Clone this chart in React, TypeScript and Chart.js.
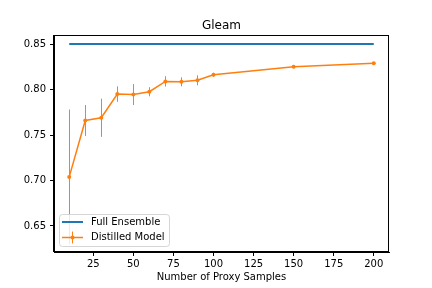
import React, { useEffect, useRef } from "react";
import { Chart, registerables } from "chart.js";

Chart.register(...registerables);

const xValues = [10, 20, 30, 40, 50, 60, 70, 80, 90, 100, 150, 200];
const distilledValues = [0.704, 0.766, 0.769, 0.795, 0.7945, 0.7976, 0.809, 0.8085, 0.8102, 0.8163, 0.825, 0.829];
const distilledStd = [0.074, 0.017, 0.021, 0.0085, 0.0115, 0.005, 0.0057, 0.005, 0.0055, 0.0022, 0.0015, 0.001];
const ensembleX = [10, 200];
const ensembleValues = [0.85, 0.85];
const xTicks = [25, 50, 75, 100, 125, 150, 175, 200];
const yTicks = [0.65, 0.7, 0.75, 0.8, 0.85];

const FONT = "'DejaVu Sans', sans-serif";
const BLUE = "#1f77b4";
const ORANGE = "#ff7f0e";

const framePlugin = {
  id: "framePlugin",
  beforeDatasetsDraw(chart: any) {
    const ctx = chart.ctx;
    const xs = chart.scales.x;
    const ys = chart.scales.y;
    const area = chart.chartArea;
    ctx.save();
    ctx.beginPath();
    ctx.rect(area.left, area.top, area.right - area.left, area.bottom - area.top);
    ctx.clip();
    ctx.strokeStyle = ORANGE;
    ctx.lineWidth = 1;
    xValues.forEach((xv, i) => {
      const px = Math.round(xs.getPixelForValue(xv)) + 0.5;
      const y1 = ys.getPixelForValue(distilledValues[i] - distilledStd[i]);
      const y2 = ys.getPixelForValue(distilledValues[i] + distilledStd[i]);
      ctx.beginPath();
      ctx.moveTo(px, y1);
      ctx.lineTo(px, y2);
      ctx.stroke();
    });
    ctx.restore();
  },
  afterDatasetsDraw(chart: any) {
    const ctx = chart.ctx;
    const area = chart.chartArea;
    ctx.save();
    // frame
    ctx.strokeStyle = "#000";
    ctx.lineWidth = 1;
    ctx.strokeRect(Math.round(area.left) - 0.5, Math.round(area.top) + 0.5, Math.round(area.right - area.left), Math.round(area.bottom - area.top) - 1);

    // legend
    const lx = 59.5, ly = 214.5, lw = 110, lh = 32, r = 3;
    ctx.beginPath();
    ctx.moveTo(lx + r, ly);
    ctx.lineTo(lx + lw - r, ly);
    ctx.quadraticCurveTo(lx + lw, ly, lx + lw, ly + r);
    ctx.lineTo(lx + lw, ly + lh - r);
    ctx.quadraticCurveTo(lx + lw, ly + lh, lx + lw - r, ly + lh);
    ctx.lineTo(lx + r, ly + lh);
    ctx.quadraticCurveTo(lx, ly + lh, lx, ly + lh - r);
    ctx.lineTo(lx, ly + r);
    ctx.quadraticCurveTo(lx, ly, lx + r, ly);
    ctx.closePath();
    ctx.fillStyle = "rgba(255,255,255,0.8)";
    ctx.fill();
    ctx.strokeStyle = "rgba(204,204,204,0.8)";
    ctx.stroke();

    const hx1 = 62, hx2 = 83;
    const row1 = 222, row2 = 237.5;
    ctx.strokeStyle = BLUE;
    ctx.lineWidth = 2;
    ctx.beginPath();
    ctx.moveTo(hx1, row1);
    ctx.lineTo(hx2, row1);
    ctx.stroke();

    ctx.strokeStyle = ORANGE;
    ctx.lineWidth = 1;
    ctx.beginPath();
    ctx.moveTo(72.5, row2 - 6);
    ctx.lineTo(72.5, row2 + 6);
    ctx.stroke();
    ctx.lineWidth = 1.5;
    ctx.beginPath();
    ctx.moveTo(hx1, row2);
    ctx.lineTo(hx2, row2);
    ctx.stroke();
    ctx.fillStyle = ORANGE;
    ctx.beginPath();
    ctx.arc(72.5, row2, 2, 0, Math.PI * 2);
    ctx.fill();

    ctx.fillStyle = "#000";
    ctx.font = `10px ${FONT}`;
    ctx.textAlign = "left";
    ctx.textBaseline = "middle";
    ctx.fillText("Full Ensemble", 91, row1);
    ctx.fillText("Distilled Model", 91, row2);

    // title
    ctx.font = `12px ${FONT}`;
    ctx.textAlign = "center";
    ctx.textBaseline = "alphabetic";
    ctx.fillText("Gleam", (area.left + area.right) / 2, 29);
    ctx.restore();
  },
};

export default function App() {
  const ref = useRef<HTMLCanvasElement | null>(null);
  useEffect(() => {
    document.body.style.margin = "0";
    if (!ref.current) return;
    const chart = new Chart(ref.current, {
      type: "line",
      data: {
        datasets: [
          {
            label: "Full Ensemble",
            data: ensembleX.map((x, i) => ({ x, y: ensembleValues[i] })),
            borderColor: BLUE,
            backgroundColor: BLUE,
            borderWidth: 2,
            pointRadius: 0,
            tension: 0,
          },
          {
            label: "Distilled Model",
            data: xValues.map((x, i) => ({ x, y: distilledValues[i] })),
            borderColor: ORANGE,
            backgroundColor: ORANGE,
            borderWidth: 1.5,
            pointRadius: 2,
            pointBorderWidth: 0,
            tension: 0,
          },
        ],
      },
      options: {
        animation: false,
        responsive: false,
        devicePixelRatio: 1,
        layout: { padding: { top: 35, right: 43, left: 0, bottom: 0 } },
        plugins: {
          legend: { display: false },
          title: { display: false },
          tooltip: { enabled: false },
        },
        scales: {
          x: {
            type: "linear",
            min: 0.5,
            max: 209.5,
            afterBuildTicks: (s: any) => {
              s.ticks = xTicks.map((v) => ({ value: v }));
            },
            afterFit: (s: any) => {
              s.height = 36;
            },
            grid: { display: true, drawOnChartArea: false, drawTicks: true, tickLength: 4, color: "#000" },
            border: { display: true, color: "#000", width: 1 },
            ticks: {
              color: "#000",
              font: { family: FONT, size: 10 },
              padding: 2,
              maxRotation: 0,
              autoSkip: false,
              callback: (v: any) => String(v),
            },
            title: {
              display: true,
              text: "Number of Proxy Samples",
              color: "#000",
              font: { family: FONT, size: 10 },
              padding: { top: 0, bottom: 5 },
            },
          },
          y: {
            type: "linear",
            min: 0.6214,
            max: 0.86,
            afterBuildTicks: (s: any) => {
              s.ticks = yTicks.map((v) => ({ value: v }));
            },
            afterFit: (s: any) => {
              s.width = 54;
            },
            grid: { display: true, drawOnChartArea: false, drawTicks: true, tickLength: 4, color: "#000" },
            border: { display: true, color: "#000", width: 1 },
            ticks: {
              color: "#000",
              font: { family: FONT, size: 10 },
              padding: 4,
              autoSkip: false,
              callback: (v: any) => Number(v).toFixed(2),
            },
          },
        },
      },
      plugins: [framePlugin],
    } as any);
    return () => chart.destroy();
  }, []);
  return (
    <div style={{ width: 432, height: 288 }}>
      <canvas ref={ref} width={432} height={288} style={{ width: 432, height: 288, display: "block" }} />
    </div>
  );
}
